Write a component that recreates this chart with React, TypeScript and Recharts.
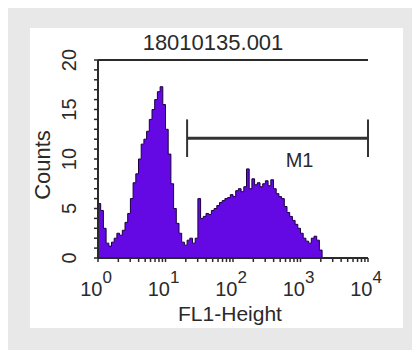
import { ComposedChart, Area, XAxis, YAxis, ReferenceLine } from 'recharts';

// FL1 channel counts, 25 channels per decade (channel 0 = 10^0, channel 100 = 10^4)
const counts = [
  5.5, 4.8, 3, 1.5, 1.2, 1.6, 2, 2.5, 2.3, 2.8,
  3.6, 4.5, 6, 7.6, 8.5, 10, 11.5, 12, 12.8, 14,
  15, 16, 16.8, 17.3, 15.5, 13, 10.5, 7.5, 5, 3.5,
  2.5, 1.6, 1.3, 1.8, 2, 1.5, 2, 6, 4, 4.2,
  4.5, 4.4, 4.8, 5, 5.3, 5.6, 5.8, 6, 6.1, 6.4,
  6.2, 6.8, 7, 6.7, 7.2, 9, 7, 8, 7.4, 7.6,
  7.2, 7.5, 7.8, 7.3, 7.9, 7, 6.5, 6.2, 6, 5.2,
  4.6, 4.2, 3.8, 3.4, 3, 2.5, 2, 1.7, 1.5, 2,
  2.2, 1.8, 0.8, 0, 0, 0, 0, 0, 0, 0,
  0, 0, 0, 0, 0, 0, 0, 0, 0, 0, 0,
];

const decadeTicks = [0, 25, 50, 75, 100];
const decadeLabels = ['0', '1', '2', '3', '4'];
const yTicks = [0, 5, 10, 15, 20];

// marker M1 (channels, counts)
const m1Start = 33;
const m1End = 100;
const m1Level = 12.1;

const title = '18010135.001';
const xTitle = 'FL1-Height';
const yTitle = 'Counts';

const data = counts.map((c, i) => ({ ch: i, count: c }));

const minorX: number[] = [];
for (let d = 0; d < 4; d++) {
  for (let k = 2; k <= 9; k++) minorX.push(d * 25 + Math.log10(k) * 25);
}
const minorY = Array.from({ length: 21 }, (_, i) => i);

const FONT = 'Arial, "Liberation Sans", sans-serif';
const INK = '#2a2a2a';

function XTick({ x, y, payload }: any) {
  const idx = decadeTicks.indexOf(payload.value);
  if (idx < 0) return null;
  return (
    <text x={x - 2} y={y + 32} fontFamily={FONT} fontSize={20} fill={INK} textAnchor="middle">
      10
      <tspan dy={-13} fontSize={17}>{decadeLabels[idx]}</tspan>
    </text>
  );
}

function YTick({ x, y, payload }: any) {
  const cx = x - 16;
  return (
    <text
      x={cx}
      y={y}
      fontFamily={FONT}
      fontSize={20}
      fill={INK}
      textAnchor="middle"
      transform={`rotate(-90 ${cx} ${y})`}
    >
      {payload.value}
    </text>
  );
}

export default function App() {
  return (
    <div style={{ position: 'relative', width: 420, height: 358, margin: -8, background: '#e8e8e8', overflow: 'hidden' }}>
      <div style={{ position: 'absolute', left: 30, top: 28, width: 373, height: 300, background: '#fff' }} />
      <div style={{ position: 'absolute', left: 0, top: 0 }}>
        <ComposedChart width={420} height={358} data={data} margin={{ top: 60, right: 52, bottom: 60, left: 58 }}>
          <XAxis
            dataKey="ch"
            type="number"
            domain={[0, 100]}
            ticks={[...decadeTicks, ...minorX]}
            interval={0}
            tick={<XTick />}
            tickLine={{ stroke: INK, strokeWidth: 1.5 }}
            tickSize={4}
            axisLine={{ stroke: INK, strokeWidth: 2 }}
            height={40}
          />
          <YAxis
            type="number"
            domain={[0, 20]}
            ticks={minorY}
            interval={0}
            tick={(p: any) => (yTicks.includes(p.payload.value) ? <YTick {...p} /> : <g />)}
            tickLine={{ stroke: INK, strokeWidth: 1.5 }}
            tickSize={4}
            axisLine={{ stroke: INK, strokeWidth: 2 }}
            width={40}
          />
          <ReferenceLine y={20} stroke={INK} strokeWidth={2} />
          <Area
            dataKey="count"
            type="stepAfter"
            stroke="#1a0040"
            strokeWidth={1}
            fill="#6408e4"
            fillOpacity={1}
            isAnimationActive={false}
          />
          <ReferenceLine
            segment={[{ x: m1Start, y: m1Level }, { x: m1End, y: m1Level }]}
            stroke="#333"
            strokeWidth={3}
            label={{ value: 'M1', position: 'insideBottom', dx: 22, dy: 34, fontFamily: FONT, fontSize: 20, fill: INK }}
          />
          <ReferenceLine segment={[{ x: m1Start, y: 10.2 }, { x: m1Start, y: 14 }]} stroke="#333" strokeWidth={2} />
          <ReferenceLine segment={[{ x: m1End, y: 10.2 }, { x: m1End, y: 14 }]} stroke="#333" strokeWidth={2} />
          <text x={213} y={50} fontFamily={FONT} fontSize={22} fill={INK} textAnchor="middle">{title}</text>
          <text x={230} y={321} fontFamily={FONT} fontSize={21} fill={INK} textAnchor="middle">{xTitle}</text>
          <text
            x={50}
            y={165}
            fontFamily={FONT}
            fontSize={22}
            fill={INK}
            textAnchor="middle"
            transform="rotate(-90 50 165)"
          >
            {yTitle}
          </text>
        </ComposedChart>
      </div>
    </div>
  );
}
